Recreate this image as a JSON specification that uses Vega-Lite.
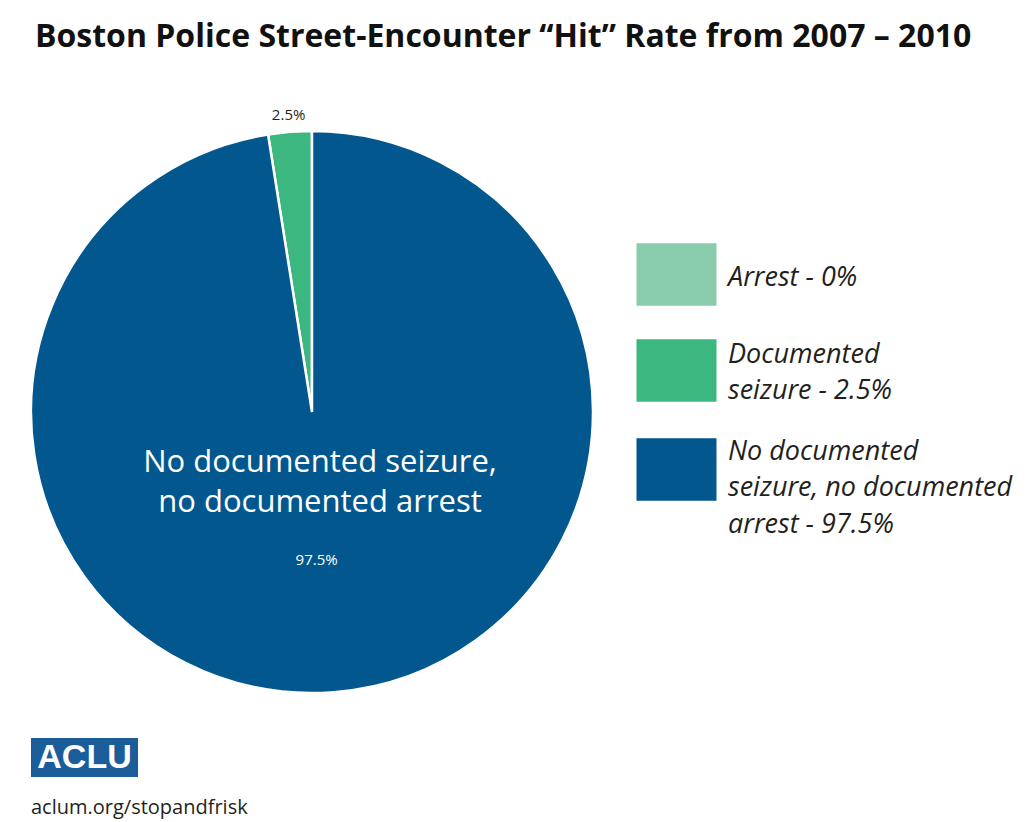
{
  "$schema": "https://vega.github.io/schema/vega-lite/v6.json",
  "background": "white",
  "padding": {"left": 26, "top": 21, "right": 0, "bottom": 6},
  "title": {
    "text": "Boston Police Street-Encounter “Hit” Rate from 2007 – 2010",
    "anchor": "start",
    "font": "Open Sans",
    "fontSize": 32,
    "fontWeight": "bold",
    "color": "#111111",
    "baseline": "alphabetic",
    "offset": 28,
    "dx": 9
  },
  "config": {
    "view": {"stroke": null},
    "style": {"guide-label": {"lineHeight": 36.5}}
  },
  "spacing": 20,
  "datasets": {
    "slices": [
      {"category": "Arrest - 0%", "percent": 0, "pct_label": "0%", "name": "Arrest"},
      {"category": "Documented seizure - 2.5%", "percent": 2.5, "pct_label": "2.5%", "name": "Documented seizure"},
      {"category": "No documented seizure, no documented arrest - 97.5%", "percent": 97.5, "pct_label": "97.5%", "name": "No documented seizure,\nno documented arrest"}
    ],
    "org": [{"org": "ACLU", "url": "aclum.org/stopandfrisk"}]
  },
  "vconcat": [
    {
      "width": 562,
      "height": 562,
      "data": {"name": "slices"},
      "encoding": {
        "theta": {"field": "percent", "type": "quantitative", "stack": true},
        "order": {"field": "category", "sort": "descending"},
        "detail": {"field": "category"}
      },
      "layer": [
        {
          "mark": {"type": "arc", "stroke": "white", "strokeWidth": 2.5},
          "encoding": {
            "color": {
              "field": "category",
              "type": "nominal",
              "scale": {
                "domain": ["Arrest - 0%", "Documented seizure - 2.5%", "No documented seizure, no documented arrest - 97.5%"],
                "range": ["#88ccab", "#3cb77f", "#02588e"]
              },
              "legend": {
                "orient": "none",
                "legendX": 614,
                "legendY": 112,
                "title": null,
                "symbolType": "M-1.28,-1H1.28V1H-1.28Z",
                "symbolSize": 3906,
                "symbolStrokeWidth": 0,
                "symbolOpacity": 1,
                "labelFont": "Open Sans",
                "labelFontStyle": "italic",
                "labelFontSize": 27,
                "labelColor": "#231f20",
                "labelLimit": 500,
                "labelOffset": 20,
                "rowPadding": 33,
                "labelExpr": "datum.label == 'Arrest - 0%' ? 'Arrest - 0%' : datum.label == 'Documented seizure - 2.5%' ? ['Documented', 'seizure - 2.5%'] : ['No documented', 'seizure, no documented', 'arrest - 97.5%']",
                "encoding": {
                  "labels": {
                    "dy": {
                      "condition": [
                        {"test": "datum.label == 'Documented seizure - 2.5%'", "value": -16},
                        {"test": "datum.label == 'No documented seizure, no documented arrest - 97.5%'", "value": -18}
                      ],
                      "value": 3
                    }
                  }
                }
              }
            }
          }
        },
        {
          "mark": {"type": "text", "radius": 298, "font": "Open Sans", "fontSize": 15, "color": "#231f20"},
          "encoding": {
            "text": {"condition": {"test": "datum.category === 'Documented seizure - 2.5%'", "field": "pct_label"}, "value": ""}
          }
        },
        {
          "mark": {"type": "text", "radius": 148, "dx": -7, "font": "Open Sans", "fontSize": 15, "color": "white"},
          "encoding": {
            "text": {"condition": {"test": "datum.category === 'No documented seizure, no documented arrest - 97.5%'", "field": "pct_label"}, "value": ""}
          }
        },
        {
          "mark": {"type": "text", "radius": 51, "dx": 4, "font": "Open Sans", "fontSize": 31, "color": "white", "lineBreak": "\n", "lineHeight": 40, "baseline": "middle"},
          "encoding": {
            "text": {"condition": {"test": "datum.category === 'No documented seizure, no documented arrest - 97.5%'", "field": "name"}, "value": ""}
          }
        }
      ]
    },
    {
      "width": 107,
      "height": 39,
      "view": {"fill": "#1b5d98", "stroke": null},
      "data": {"name": "org"},
      "title": {
        "text": "aclum.org/stopandfrisk",
        "orient": "bottom",
        "anchor": "start",
        "font": "Open Sans",
        "fontSize": 20,
        "fontWeight": "normal",
        "color": "#231f20",
        "offset": 21
      },
      "mark": {"type": "text", "font": "Liberation Sans", "fontWeight": "bold", "fontSize": 34, "color": "white", "baseline": "middle"},
      "encoding": {"text": {"field": "org"}}
    }
  ]
}
